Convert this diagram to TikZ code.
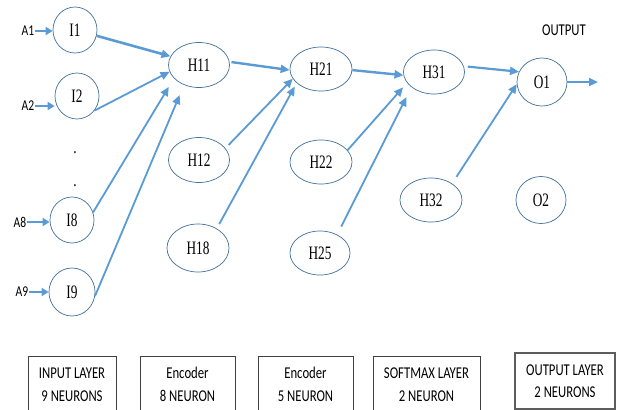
\documentclass[tikz,border=0pt]{standalone}
\usepackage{fontspec}
\usetikzlibrary{arrows.meta,shapes.geometric,calc}
\newfontfamily\nodefont[FakeStretch=0.7]{Liberation Serif}
\newfontfamily\boxfont[FakeStretch=0.77]{Carlito}
\definecolor{arrowblue}{HTML}{5B9BD5}
\definecolor{rimblue}{HTML}{41719C}
\definecolor{boxgray}{HTML}{404040}
\begin{document}
\begin{tikzpicture}[x=1pt,y=-1pt,
  neuron/.style={ellipse, draw=rimblue, line width=0.7pt, inner sep=0pt,
    font=\nodefont\fontsize{19}{21}\selectfont},
  ineuron/.style={neuron, minimum width=44pt, minimum height=46pt},
  hneuron/.style={neuron, minimum width=61pt, minimum height=45pt},
  oneuron/.style={neuron, minimum width=50pt, minimum height=48pt},
  conn/.style={draw=arrowblue, line width=1.8pt, -{Triangle[length=9pt,width=8pt]}},
  inarrow/.style={draw=arrowblue, line width=2.8pt, -{Triangle[length=7pt,width=8pt]}},
  lab/.style={font=\boxfont\fontsize{15}{17}\selectfont, inner sep=1pt},
  dotlab/.style={font=\nodefont\fontsize{19}{21}\selectfont, inner sep=0pt},
  boxline/.style={font=\boxfont\fontsize{16.5}{20}\selectfont, inner sep=0pt, anchor=base},
  layerbox/.style={rectangle, draw=boxgray, line width=0.8pt, inner sep=0pt}
]
\clip (0,0) rectangle (622,410);
\fill[white] (0,0) rectangle (622,410);

% input layer
\node[ineuron] (I1) at (75,30) {I1};
\node[ineuron] (I2) at (77,96) {I2};
\node[ineuron] (I8) at (72,220) {I8};
\node[ineuron, minimum width=46pt, minimum height=48pt] (I9) at (72,292) {I9};
\node[dotlab] (d1) at (75,153) {.};
\node[dotlab] (d2) at (75,186) {.};

\node[lab] (A1) at (28,31) {A1};
\node[lab] (A2) at (28,106) {A2};
\node[lab] (A8) at (20,222) {A8};
\node[lab] (A9) at (22,292) {A9};

% hidden layers
\node[hneuron] (H11) at (199,65) {H11};
\node[hneuron] (H12) at (199,160) {H12};
\node[hneuron, minimum width=62pt, minimum height=48pt] (H18) at (198,248) {H18};
\node[hneuron, minimum width=62pt, minimum height=44pt] (H21) at (321,69) {H21};
\node[hneuron, minimum width=62pt, minimum height=44pt] (H22) at (321,162) {H22};
\node[hneuron, minimum width=60pt, minimum height=44pt] (H25) at (320,253) {H25};
\node[hneuron, minimum width=61pt, minimum height=44pt] (H31) at (434,72) {H31};
\node[hneuron, minimum width=62pt, minimum height=44pt] (H32) at (431,200) {H32};

% output layer
\node[oneuron] (O1) at (542,82) {O1};
\node[oneuron, minimum height=47pt] (O2) at (541,200) {O2};
\node[font=\boxfont\fontsize{16.5}{20}\selectfont, inner sep=0pt] (OUT) at (564,30) {OUTPUT};
\coordinate (outend) at (598,82);

% input arrows
\draw[inarrow] (A1.east) -- (A1.east -| I1.west);
\draw[inarrow] (A2.east) -- (A2.east -| I2.west);
\draw[inarrow] (A8.east) -- (A8.east -| I8.west);
\draw[inarrow] (A9.east) -- (A9.east -| I9.west);

% connections
\draw[conn, line width=2.6pt] (I1.-15) -- (H11.163.5);
\draw[conn] (I2.-40) -- (H11.193.5);
\draw[conn, shorten >=10pt] (I8.20) -- (H11.208);
\draw[conn, shorten >=11pt] (I9.-10) -- (H11.233);

\draw[conn, line width=2.4pt, shorten <=2pt] (H11.6) -- (H21.182);
\draw[conn, shorten <=4.5pt] (H12.24.5) -- (H21.199.5);
\draw[conn, shorten <=5pt, shorten >=4pt] (H18.46.4) -- (H21.210.6);

\draw[conn, line width=2.4pt] (H21.-2) -- (H31.186);
\draw[conn, shorten >=6pt] (H22.24) -- (H31.202);
\draw[conn, shorten <=9pt, shorten >=11pt] (H25.47) -- (H31.214);

\draw[conn, line width=2.2pt, shorten <=4pt] (H31.11) -- (O1.156.5);
\draw[conn, shorten <=8pt] (H32.38) -- (O1.185);
\draw[conn, line width=2.4pt] (O1.east) -- (outend);

% layer boxes
\node[layerbox, minimum width=88pt, minimum height=64pt] (B1) at (72,388) {};
\node[layerbox, minimum width=95pt, minimum height=64pt] (B2) at (187.5,388) {};
\node[layerbox, minimum width=95pt, minimum height=64pt] (B3) at (305.5,388) {};
\node[layerbox, minimum width=107pt, minimum height=64pt] (B4) at (426.5,388) {};
\node[layerbox, draw=boxgray!85, line width=1.3pt, minimum width=100pt, minimum height=56pt] (B5) at (565,381) {};

\node[boxline] (B1a) at (72,378.3) {INPUT LAYER};
\node[boxline] (B1b) at (72,401.3) {9 NEURONS};
\node[boxline] (B2a) at (187.5,378.3) {Encoder};
\node[boxline] (B2b) at (187.5,401.3) {8 NEURON};
\node[boxline] (B3a) at (305.5,378.3) {Encoder};
\node[boxline] (B3b) at (305.5,401.3) {5 NEURON};
\node[boxline] (B4a) at (426.5,378.3) {SOFTMAX LAYER};
\node[boxline] (B4b) at (426.5,401.3) {2 NEURON};
\node[boxline] (B5a) at (565,375.3) {OUTPUT LAYER};
\node[boxline] (B5b) at (565,397.3) {2 NEURONS};
\end{tikzpicture}
\end{document}
